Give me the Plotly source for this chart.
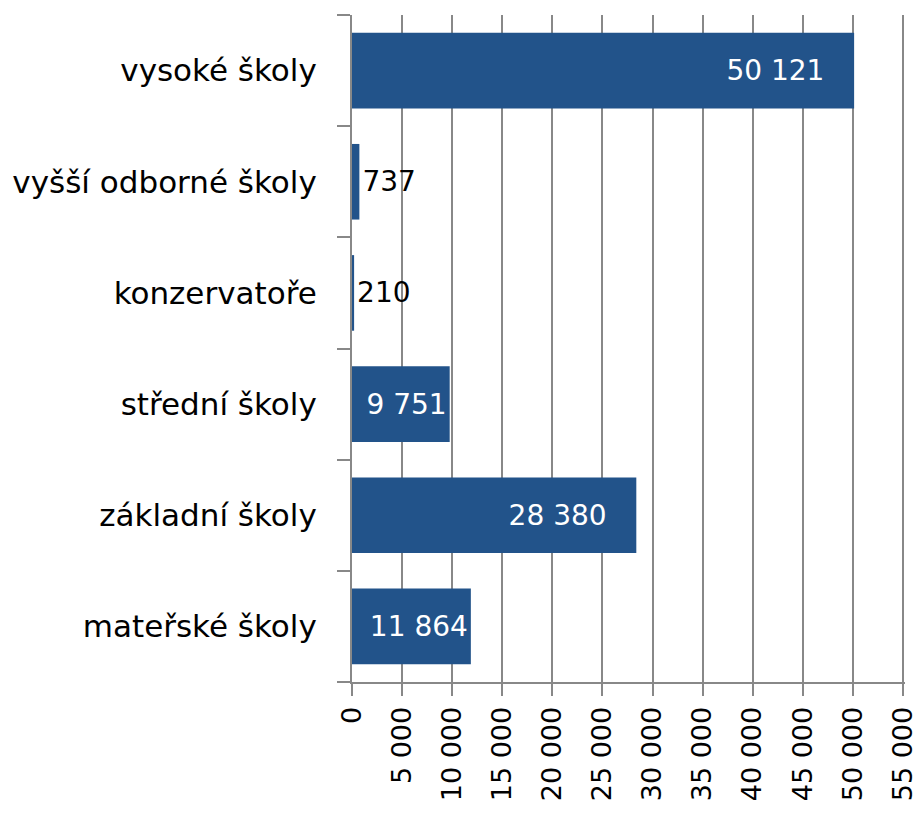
import plotly.graph_objects as go

# school types, listed bottom to top as drawn
categories = ["mateřské školy", "základní školy", "střední školy",
              "konzervatoře", "vyšší odborné školy", "vysoké školy"]
values = [11864, 28380, 9751, 210, 737, 50121]
tick_values = list(range(0, 55001, 5000))
tick_labels = [f"{v:,}".replace(",", " ") for v in tick_values]

nbsp = "\u00a0"
labels = [f"{v:,}".replace(",", " ") + (nbsp * 3 if v > 20000 else "") for v in values]
positions = ["inside" if v > 5000 else "outside" for v in values]

grey = "#888888"
fig = go.Figure(go.Bar(
    x=values, y=categories, orientation="h",
    marker_color="#22538A", marker_line_width=0,
    text=labels, textposition=positions, insidetextanchor="end",
    insidetextfont=dict(color="white", size=28),
    outsidetextfont=dict(color="black", size=28),
    cliponaxis=False,
))

fig.update_layout(
    width=917, height=814,
    margin=dict(l=352, r=12, t=15, b=132),
    paper_bgcolor="white", plot_bgcolor="white",
    font=dict(family="DejaVu Sans", size=28, color="black"),
    bargap=0.32, showlegend=False,
)
fig.update_xaxes(
    range=[0, 55200], tickvals=tick_values, ticktext=tick_labels,
    tickangle=-90, ticks="outside", ticklen=12, tickwidth=2, tickcolor=grey,
    tickfont=dict(size=27), ticklabeloverflow="allow",
    showline=True, linecolor=grey, linewidth=2, automargin=False,
    showgrid=True, gridcolor=grey, gridwidth=2, zeroline=False,
)
fig.update_yaxes(
    categoryorder="array", categoryarray=categories,
    tickson="boundaries", ticks="outside", ticklen=13, tickwidth=2, tickcolor=grey,
    tickfont=dict(size=31), automargin=False,
    showline=True, linecolor=grey, linewidth=2, showgrid=False,
    ticklabelstandoff=27,
)
fig.write_html("out.html", config={"displayModeBar": False},
               post_script="document.body.style.margin='0';")
